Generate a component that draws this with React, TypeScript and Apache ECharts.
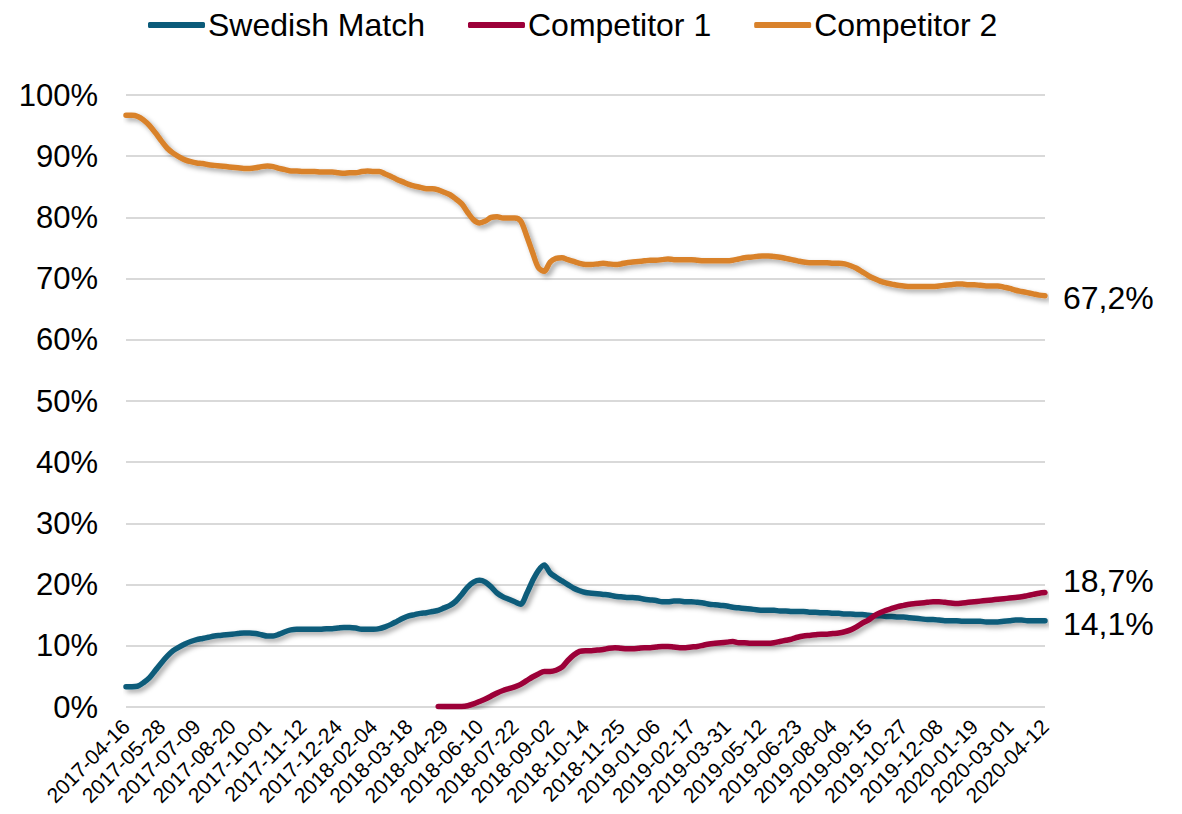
import React, { useEffect, useRef } from "react";
import * as echarts from "echarts";

const START_DATE = "2017-04-16";
const WEEKS = 157;

const seriesNames = ["Swedish Match", "Competitor 1", "Competitor 2"];
const seriesColors = ["#0B5B7A", "#9C0039", "#D9822B"];
const endLabels = ["14,1%", "18,7%", "67,2%"];

const swedishMatch: number[] = [
  3.3, 3.3, 3.4, 4.0, 4.8, 6.0, 7.2, 8.3, 9.2, 9.8,
  10.3, 10.7, 11.0, 11.2, 11.4, 11.6, 11.7, 11.8, 11.9, 12.0,
  12.1, 12.1, 12.0, 11.8, 11.6, 11.6, 11.9, 12.3, 12.6, 12.7,
  12.7, 12.7, 12.7, 12.7, 12.8, 12.8, 12.9, 13.0, 13.0, 12.9,
  12.7, 12.7, 12.7, 12.8, 13.1, 13.5, 14.0, 14.5, 14.9, 15.1,
  15.3, 15.4, 15.6, 15.8, 16.2, 16.6, 17.3, 18.4, 19.6, 20.4,
  20.7, 20.4, 19.6, 18.6, 18.0, 17.6, 17.2, 16.8, 18.5, 20.6,
  22.3, 23.2, 21.9, 21.2, 20.6, 20.0, 19.4, 19.0, 18.7, 18.6,
  18.5, 18.4, 18.3, 18.1, 18.0, 17.9, 17.9, 17.8, 17.6, 17.5,
  17.4, 17.2, 17.2, 17.3, 17.3, 17.2, 17.2, 17.1, 17.0, 16.8,
  16.7, 16.6, 16.5, 16.3, 16.2, 16.1, 16.0, 15.9, 15.8, 15.8,
  15.8, 15.7, 15.7, 15.6, 15.6, 15.6, 15.5, 15.5, 15.4, 15.4,
  15.3, 15.3, 15.2, 15.2, 15.1, 15.1, 15.0, 14.9, 14.9, 14.8,
  14.8, 14.7, 14.7, 14.6, 14.5, 14.4, 14.3, 14.3, 14.2, 14.1,
  14.1, 14.1, 14.0, 14.0, 14.0, 14.0, 13.9, 13.9, 13.9, 14.0,
  14.1, 14.2, 14.2, 14.1, 14.1, 14.1, 14.1,
];

const competitor1: (number | null)[] = [
  null, null, null, null, null, null, null, null, null, null,
  null, null, null, null, null, null, null, null, null, null,
  null, null, null, null, null, null, null, null, null, null,
  null, null, null, null, null, null, null, null, null, null,
  null, null, null, null, null, null, null, null, null, null,
  null, null, null, 0.1, 0.1, 0.1, 0.1, 0.1, 0.2, 0.5,
  0.9, 1.3, 1.8, 2.3, 2.7, 3.0, 3.3, 3.7, 4.3, 4.9,
  5.4, 5.8, 5.8, 6.0, 6.5, 7.6, 8.5, 9.1, 9.2, 9.2,
  9.3, 9.4, 9.6, 9.7, 9.6, 9.5, 9.5, 9.6, 9.7, 9.7,
  9.8, 9.9, 9.9, 9.8, 9.7, 9.7, 9.8, 9.9, 10.1, 10.3,
  10.4, 10.5, 10.6, 10.7, 10.5, 10.5, 10.4, 10.4, 10.4, 10.4,
  10.5, 10.7, 10.9, 11.1, 11.4, 11.6, 11.7, 11.8, 11.9, 11.9,
  12.0, 12.1, 12.3, 12.6, 13.1, 13.7, 14.2, 14.9, 15.4, 15.8,
  16.1, 16.4, 16.6, 16.8, 16.9, 17.0, 17.1, 17.2, 17.2, 17.1,
  17.0, 16.9, 17.0, 17.1, 17.2, 17.3, 17.4, 17.5, 17.6, 17.7,
  17.8, 17.9, 18.0, 18.2, 18.4, 18.6, 18.7,
];

const competitor2: number[] = [
  96.7, 96.7, 96.5, 95.9, 95.0, 93.8, 92.5, 91.3, 90.5, 89.9,
  89.4, 89.1, 88.9, 88.8, 88.6, 88.5, 88.4, 88.3, 88.2, 88.1,
  88.0, 88.0, 88.1, 88.3, 88.4, 88.3, 88.0, 87.8, 87.6, 87.6,
  87.5, 87.5, 87.5, 87.4, 87.4, 87.4, 87.3, 87.2, 87.3, 87.3,
  87.5, 87.6, 87.5, 87.5, 87.1, 86.7, 86.2, 85.8, 85.4, 85.1,
  84.9, 84.7, 84.7, 84.5, 84.1, 83.7, 83.0, 82.2, 80.8, 79.6,
  79.1, 79.4, 80.0, 80.1, 79.9, 79.9, 79.9, 79.4, 77.0, 74.3,
  71.8, 71.2, 72.7, 73.3, 73.4, 73.1, 72.8, 72.5, 72.3, 72.3,
  72.4, 72.5, 72.4, 72.3, 72.4, 72.6, 72.7, 72.8, 72.9, 73.0,
  73.0, 73.1, 73.2, 73.1, 73.1, 73.1, 73.1, 73.0, 72.9, 72.9,
  72.9, 72.9, 72.9, 73.0, 73.2, 73.4, 73.5, 73.6, 73.7, 73.7,
  73.6, 73.5, 73.3, 73.1, 72.9, 72.7, 72.6, 72.6, 72.6, 72.6,
  72.5, 72.5, 72.4, 72.1, 71.7, 71.1, 70.5, 70.0, 69.6, 69.3,
  69.1, 68.9, 68.8, 68.7, 68.7, 68.7, 68.7, 68.7, 68.8, 68.9,
  69.0, 69.1, 69.1, 69.0, 69.0, 68.9, 68.8, 68.8, 68.8, 68.6,
  68.4, 68.1, 67.9, 67.7, 67.5, 67.3, 67.2,
];

const yTicks = [0, 10, 20, 30, 40, 50, 60, 70, 80, 90, 100];

function buildWeeks(start: string, n: number): string[] {
  const out: string[] = [];
  const base = new Date(start + "T00:00:00Z").getTime();
  for (let i = 0; i < n; i++) {
    const d = new Date(base + i * 7 * 86400000);
    out.push(d.toISOString().slice(0, 10));
  }
  return out;
}

const categories = buildWeeks(START_DATE, WEEKS);

export default function App() {
  const ref = useRef<HTMLDivElement>(null);
  useEffect(() => {
    if (!ref.current) return;
    const chart = echarts.init(ref.current, null, { renderer: "svg" });
    const data = [swedishMatch, competitor1, competitor2];
    const endOffsets = [
      [10, 3],
      [10, -12],
      [10, 2],
    ];
    chart.setOption({
      animation: false,
      backgroundColor: "#ffffff",
      textStyle: { fontFamily: "'Liberation Sans', Arial, sans-serif" },
      legend: {
        top: 0,
        left: 140,
        padding: 0,
        itemWidth: 57,
        itemHeight: 6,
        itemGap: 43,
        icon: "roundRect",
        textStyle: {
          fontSize: 32,
          lineHeight: 34,
          color: "#000",
          fontFamily: "'Liberation Sans', Arial, sans-serif",
          padding: [0, 0, 0, -2],
        },
        data: seriesNames,
      },
      grid: { left: 118, right: 145, top: 87, bottom: 115 },
      xAxis: {
        type: "category",
        data: categories,
        boundaryGap: false,
        axisLine: { show: false },
        axisTick: { show: false },
        axisLabel: {
          interval: 5,
          rotate: 45,
          fontSize: 21,
          color: "#000",
          margin: 16,
        },
      },
      yAxis: {
        type: "value",
        min: 0,
        max: 100,
        interval: 10,
        axisLine: { show: false },
        axisTick: { show: false },
        axisLabel: {
          fontSize: 31,
          color: "#000",
          margin: 28,
          formatter: (v: number) => (yTicks.includes(v) ? v + "%" : ""),
        },
        splitLine: { lineStyle: { color: "#d9d9d9", width: 2 } },
      },
      series: seriesNames.map((name, i) => ({
        name,
        type: "line",
        data: data[i],
        smooth: 0.3,
        showSymbol: false,
        symbol: "none",
        color: seriesColors[i],
        lineStyle: {
          width: 5.5,
          color: seriesColors[i],
          cap: "round",
          join: "round",
          shadowColor: "rgba(0,0,0,0.35)",
          shadowBlur: 5,
          shadowOffsetX: 3,
          shadowOffsetY: 3,
        },
        endLabel: {
          show: true,
          formatter: () => endLabels[i],
          fontSize: 32,
          color: "#000",
          offset: endOffsets[i],
        },
      })),
    });
    return () => chart.dispose();
  }, []);
  return <div ref={ref} style={{ width: 1182, height: 814 }} />;
}
